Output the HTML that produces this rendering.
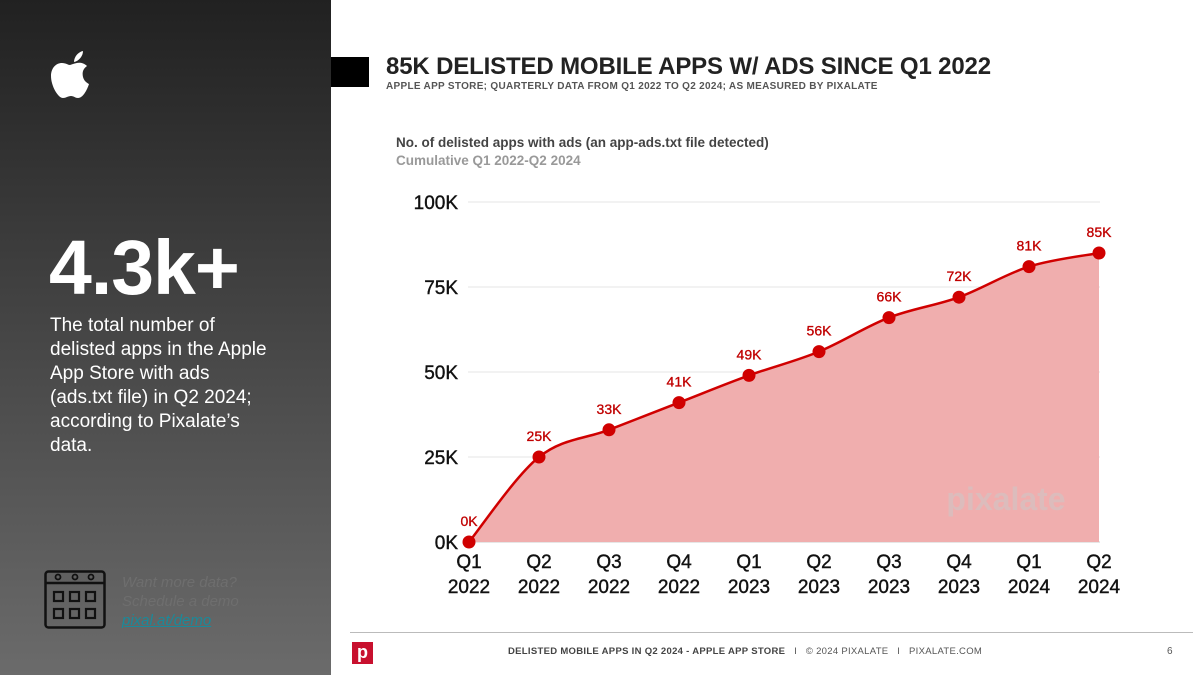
<!DOCTYPE html>
<html><head><meta charset="utf-8"><style>
body{margin:0;width:1200px;height:675px;overflow:hidden;background:#fff;font-family:"Liberation Sans",sans-serif;position:relative}
.left{position:absolute;left:0;top:0;width:331px;height:675px;background:linear-gradient(#212121,#6b6b6b)}
</style></head><body>
<div class="left">
<svg style="position:absolute;left:50px;top:50px" width="46" height="52" viewBox="0 0 46 52"><path d="M23 14c3-1 9-3 14 2c-4 3-5 6-4 11c1 4 4 6 6 7c-2 6-6 14-11 14c-3 0-4-2-7-2s-5 2-8 2c-5 0-12-12-12-22c0-8 5-13 11-13c4 0 6 2 8 2z" fill="#fff"/><path d="M24 12c0-5 4-10 9-11c0 5-4 10-9 11z" fill="#fff"/></svg>
<div style="position:absolute;left:49px;top:224px;color:#fff;font-size:77px;font-weight:bold;letter-spacing:-1px">4.3k+</div>
<div style="position:absolute;left:50px;top:314px;width:260px;color:#fff;font-size:19px;line-height:24px;white-space:nowrap">The total number of<br>delisted apps in the Apple<br>App Store with ads<br>(ads.txt file) in Q2 2024;<br>according to Pixalate’s<br>data.</div>
<svg style="position:absolute;left:44px;top:570px" width="62" height="60" viewBox="0 0 62 60"><rect x="1.5" y="1.5" width="59" height="56" rx="3" fill="none" stroke="#111" stroke-width="2.5"/><line x1="1.5" y1="13" x2="60.5" y2="13" stroke="#111" stroke-width="2.5"/><circle cx="14" cy="7" r="2.5" fill="none" stroke="#111" stroke-width="1.8"/><circle cx="31" cy="7" r="2.5" fill="none" stroke="#111" stroke-width="1.8"/><circle cx="47" cy="7" r="2.5" fill="none" stroke="#111" stroke-width="1.8"/><g fill="none" stroke="#111" stroke-width="2.2"><rect x="10" y="22" width="9" height="9"/><rect x="26" y="22" width="9" height="9"/><rect x="42" y="22" width="9" height="9"/><rect x="10" y="39" width="9" height="9"/><rect x="26" y="39" width="9" height="9"/><rect x="42" y="39" width="9" height="9"/></g></svg>
<div style="position:absolute;left:122px;top:573px;color:#6e6e6e;font-style:italic;font-size:15px;line-height:19px">Want more data?<br>Schedule a demo<br><span style="color:#1a8a9a;text-decoration:underline">pixal.at/demo</span></div>
</div>
<div style="position:absolute;left:331px;top:57px;width:38px;height:30px;background:#000"></div>
<div style="position:absolute;left:386px;top:53px;font-size:24px;font-weight:bold;color:#222;letter-spacing:-0.15px">85K DELISTED MOBILE APPS W/ ADS SINCE Q1 2022</div>
<div style="position:absolute;left:386px;top:81px;font-size:10px;font-weight:bold;color:#555;letter-spacing:.3px">APPLE APP STORE; QUARTERLY DATA FROM Q1 2022 TO Q2 2024; AS MEASURED BY PIXALATE</div>
<div style="position:absolute;left:396px;top:134px;font-size:13.5px;font-weight:bold;color:#444;line-height:18px">No. of delisted apps with ads (an app-ads.txt file detected)<br><span style="color:#999">Cumulative Q1 2022-Q2 2024</span></div>
<svg id="chart" style="position:absolute;left:0;top:0" width="1200" height="675"></svg>
<div style="position:absolute;left:350px;top:632px;width:843px;height:1px;background:#bbb"></div>
<div style="position:absolute;left:352px;top:642px;width:21px;height:22px;background:#c8102e;color:#fff;font-weight:bold;font-size:18px;line-height:20px;text-align:center">p</div>
<div style="position:absolute;left:508px;top:646px;font-size:9.5px;font-weight:bold;color:#444;letter-spacing:.3px">DELISTED MOBILE APPS IN Q2 2024 - APPLE APP STORE <span style="font-weight:normal;color:#555">&nbsp; I &nbsp; © 2024 PIXALATE &nbsp; I &nbsp; PIXALATE.COM</span></div>
<div style="position:absolute;left:1167px;top:646px;font-size:10px;color:#555">6</div>
<script>
const categories=["Q1|2022","Q2|2022","Q3|2022","Q4|2022","Q1|2023","Q2|2023","Q3|2023","Q4|2023","Q1|2024","Q2|2024"];
const values=[0,25,33,41,49,56,66,72,81,85];
const yTicks=[0,25,50,75,100];
const NS="http://www.w3.org/2000/svg",svg=document.getElementById("chart");
const x=i=>469+i*70, y=v=>542-v*3.4;
function mk(t,a,p){const e=document.createElementNS(NS,t);for(const k in a)e.setAttribute(k,a[k]);(p||svg).appendChild(e);return e;}
yTicks.forEach(t=>{
 if(t>0){const g=mk("line",{x1:468,x2:1100,y1:y(t),y2:y(t),stroke:"#e6e6e6","stroke-width":1});
 
 }
 const l=mk("text",{x:458,y:y(t)+7,"text-anchor":"end","font-size":19,fill:"#111","font-family":"Liberation Sans","stroke":"#111","stroke-width":0.4});l.textContent=t+"K";
 
 
});
const base=mk("line",{x1:468,x2:1100,y1:542,y2:542,stroke:"#ccc"});


const P=values.map((v,i)=>[x(i),y(v)]);
let d="M"+P[0][0]+","+P[0][1];
for(let i=0;i<P.length-1;i++){const p0=P[Math.max(i-1,0)],p1=P[i],p2=P[i+1],p3=P[Math.min(i+2,P.length-1)];
 d+=` C${p1[0]+(p2[0]-p0[0])/6},${p1[1]+(p2[1]-p0[1])/6} ${p2[0]-(p3[0]-p1[0])/6},${p2[1]-(p3[1]-p1[1])/6} ${p2[0]},${p2[1]}`;}
const area=mk("path",{d:d+` L${x(values.length-1)},542 L${x(0)},542 Z`,fill:"#f0aeae"});


const wm=mk("text",{x:1006,y:510,"text-anchor":"middle","font-size":32,"font-weight":"bold",fill:"#dcbcbc","font-family":"Liberation Sans"});wm.textContent="pixalate";


const line=mk("path",{d:d,fill:"none",stroke:"#d00000","stroke-width":2.5});


values.forEach((v,i)=>{
 const c=mk("circle",{cx:x(i),cy:y(v),r:6.5,fill:"#d00000"});
 
 
 const t=mk("text",{x:x(i),y:y(v)-16,"text-anchor":"middle","font-size":14,fill:"#c00000","font-family":"Liberation Sans","stroke":"#c00000","stroke-width":0.3});t.textContent=v+"K";
 
 
 const [a,b]=categories[i].split("|");
 const xl=mk("text",{x:x(i),y:568,"text-anchor":"middle","font-size":19,fill:"#111","font-family":"Liberation Sans","stroke":"#111","stroke-width":0.4});
 
 
 mk("tspan",{x:x(i),dy:0},xl).textContent=a;
 mk("tspan",{x:x(i),dy:25},xl).textContent=b;
});
</script>
</body></html>
